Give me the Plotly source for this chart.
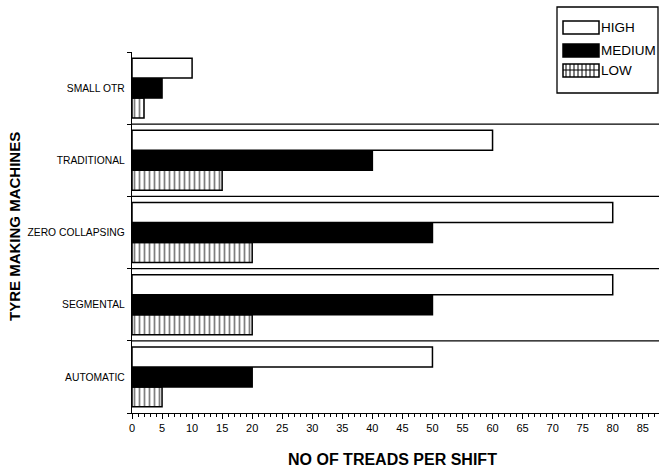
import plotly.graph_objects as go

categories = ["AUTOMATIC", "SEGMENTAL", "ZERO COLLAPSING", "TRADITIONAL", "SMALL OTR"]
high = [50, 80, 80, 60, 10]
medium = [20, 50, 50, 40, 5]
low = [5, 20, 20, 15, 2]
x_ticks = list(range(0, 90, 5))
series_names = ["HIGH", "MEDIUM", "LOW"]

FONT = "Liberation Sans, Arial, sans-serif"

W, H = 660, 473
ML, MR, MT, MB = 132, 1, 52, 60
PW, PH = W - ML - MR, H - MT - MB


def px(x):
    return (x - ML) / PW


def py(y):
    return (H - MB - y) / PH


LOW_PATTERN = dict(shape="|", fgcolor="black", bgcolor="white", size=5, solidity=0.35)

fig = go.Figure()
fig.add_trace(go.Bar(
    y=categories, x=low, orientation="h", name="LOW",
    marker=dict(color="white", line=dict(color="black", width=1.5), pattern=LOW_PATTERN),
))
fig.add_trace(go.Bar(
    y=categories, x=medium, orientation="h", name="MEDIUM",
    marker=dict(color="black", line=dict(color="black", width=1.5)),
))
fig.add_trace(go.Bar(
    y=categories, x=high, orientation="h", name="HIGH",
    marker=dict(color="white", line=dict(color="black", width=1.5)),
))

# category separators
for i in range(len(categories) - 1):
    fig.add_shape(type="line", xref="paper", yref="y", x0=0, x1=1,
                  y0=i + 0.5, y1=i + 0.5, line=dict(color="black", width=1.3))

# custom legend box
fig.add_shape(type="rect", xref="paper", yref="paper", x0=px(557), x1=px(658),
              y0=py(93), y1=py(7), line=dict(color="black", width=1.3), fillcolor="white")
legend_rows = [21, 44, 64]
for name, top in zip(series_names, legend_rows):
    x0, x1, y0, y1 = px(563), px(599), py(top + 13), py(top)
    if name == "HIGH":
        fig.add_shape(type="rect", xref="paper", yref="paper", x0=x0, x1=x1, y0=y0, y1=y1,
                      line=dict(color="black", width=1.5), fillcolor="white")
    elif name == "MEDIUM":
        fig.add_shape(type="rect", xref="paper", yref="paper", x0=x0, x1=x1, y0=y0, y1=y1,
                      line=dict(color="black", width=1.5), fillcolor="black")
    else:
        fig.add_shape(type="rect", xref="paper", yref="paper", x0=x0, x1=x1, y0=y0, y1=y1,
                      line=dict(color="black", width=1.5), fillcolor="white")
        for k in range(566, 598, 4):
            fig.add_shape(type="line", xref="paper", yref="paper", x0=px(k), x1=px(k),
                          y0=y0, y1=y1, line=dict(color="black", width=1))
        fig.add_shape(type="line", xref="paper", yref="paper", x0=x0, x1=x1,
                      y0=py(top + 6), y1=py(top + 6), line=dict(color="black", width=1))
    fig.add_annotation(xref="paper", yref="paper", x=px(599), y=py(top + 6.5),
                       text=name, showarrow=False, xanchor="left", yanchor="middle",
                       font=dict(size=13.5, family=FONT, color="black"))

# axis titles
fig.add_annotation(xref="paper", yref="paper", x=px(392), y=py(459), text="<b>NO OF TREADS PER SHIFT</b>",
                   showarrow=False, xanchor="center", yanchor="middle",
                   font=dict(size=16, family=FONT, color="black"))
fig.add_annotation(xref="paper", yref="paper", x=px(14), y=py(227), text="<b>TYRE MAKING MACHINES</b>",
                   showarrow=False, textangle=-90, xanchor="center", yanchor="middle",
                   font=dict(size=15, family=FONT, color="black"))

fig.update_layout(
    width=W, height=H,
    margin=dict(l=ML, r=MR, t=MT, b=MB, autoexpand=False),
    plot_bgcolor="white", paper_bgcolor="white",
    barmode="group", bargap=0.17, bargroupgap=0,
    font=dict(family=FONT, color="black", size=11),
    showlegend=False,
    xaxis=dict(range=[0, 87.7], tickvals=x_ticks, ticks="outside", ticklen=5,
               tickcolor="black", showline=True, linecolor="black", linewidth=1.3,
               showgrid=False, zeroline=False, automargin=False,
               tickfont=dict(size=11, family=FONT),
               minor=dict(dtick=1, ticks="outside", ticklen=3, tickcolor="black", showgrid=False)),
    yaxis=dict(type="category", categoryorder="array", categoryarray=categories,
               range=[-0.5, 4.5], tickson="boundaries", ticks="outside", ticklen=4,
               tickcolor="black", showline=True, linecolor="black", linewidth=1.3,
               showgrid=False, zeroline=False, automargin=False, ticklabelstandoff=4,
               tickfont=dict(size=10.3, family=FONT)),
)

fig.write_html("out.html", post_script="document.body.style.margin='0';",
               config={"displayModeBar": False})
